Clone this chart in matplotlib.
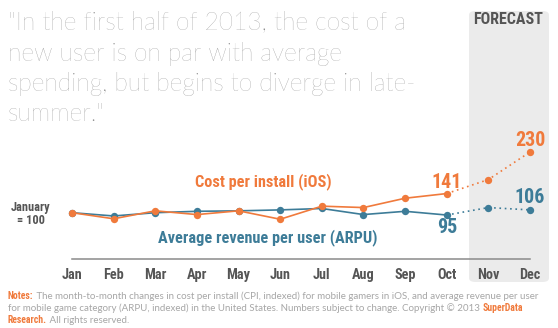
import matplotlib
matplotlib.use("Agg")
import matplotlib.pyplot as plt
from matplotlib import font_manager as fm
from matplotlib.patches import FancyBboxPatch

W, H = 558, 328

months = ["Jan", "Feb", "Mar", "Apr", "May", "Jun",
          "Jul", "Aug", "Sep", "Oct", "Nov", "Dec"]
cpi = [100, 87, 104, 96, 104, 86, 114, 111, 131, 141, 171, 230]
arpu = [100, 93, 100, 103, 104, 106, 109, 96, 103, 95, 111, 106]
last_actual = 9  # Oct, after that the numbers are a forecast

orange = "#f07a3c"
blue = "#3d7c98"
dark = "#555555"
grey = "#a6a6a6"

# pick a condensed bold face if one is around
names = {f.name for f in fm.fontManager.ttflist}
if "Roboto Condensed" in names:
    narrow = dict(family="Roboto Condensed", weight="bold")
elif any(f.name == "DejaVu Sans" and f.stretch == "condensed"
         for f in fm.fontManager.ttflist):
    narrow = dict(family="DejaVu Sans", stretch="condensed", weight="bold")
elif "Liberation Sans Narrow" in names:
    narrow = dict(family="Liberation Sans Narrow", weight="bold")
else:
    narrow = dict(family="Roboto", weight="bold")
light = dict(family="Lato", weight="normal")
thin = dict(family="Lato", weight="light")


def fx(x):
    return x / W


def fy(y):
    return 1 - y / H


fig = plt.figure(figsize=(W / 100, H / 100), dpi=100)
fig.patch.set_facecolor("white")
renderer = fig.canvas.get_renderer()


def fit(t, width):
    # scale the font so the text is as wide as in the reference
    w = t.get_window_extent(renderer).width
    t.set_fontsize(t.get_fontsize() * width / w)
    return t


# plot area: Jan at px 72, Dec at px 530, 100 at px 212.7
ax = fig.add_axes([0, 0, 1, 1])
ax.set_xlim(-72 / 41.64, (W - 72) / 41.64)
ax.set_ylim(100 - (H - 212.7) / 0.467, 100 + 212.7 / 0.467)
ax.axis("off")

# forecast band
band = FancyBboxPatch((fx(469), fy(282)), fx(549) - fx(469), fy(11) - fy(282),
                      boxstyle="round,pad=0,rounding_size=0.012",
                      transform=fig.transFigure, facecolor="#ebebeb",
                      edgecolor="none", zorder=0)
ax.add_patch(band)
fit(fig.text(fx(508), fy(19), "FORECAST", ha="center", va="center",
             fontsize=11, color=dark, **narrow), 70)

x = list(range(len(months)))
k = last_actual
for vals, col, z in [(arpu, blue, 3), (cpi, orange, 4)]:
    ax.plot(x[:k + 1], vals[:k + 1], color=col, lw=1.2, zorder=z)
    ax.plot(x[k:], vals[k:], color=col, lw=1.2, ls=(0, (1, 2.2)), zorder=z)
    ax.plot(x, vals, "o", color=col, ms=5.3, mec="none", zorder=z + 0.5)

# baseline axis line
ax.plot([0, 11], [100 - (259 - 212.7) / 0.467] * 2, color="#8a8a8a", lw=1.1,
        zorder=2)
ref = fit(ax.text(0, 0, "Jan", fontsize=9, **narrow), 21)
size_m = ref.get_fontsize()
ref.remove()
for i, m in enumerate(months):
    ax.text(i, 100 - (275 - 212.7) / 0.467, m, ha="center", va="center",
            fontsize=size_m, color=dark, zorder=5, **narrow)

# value labels
for i, vals, col, dy in [(9, cpi, orange, 11), (9, arpu, blue, -12),
                         (11, cpi, orange, 11), (11, arpu, blue, 12)]:
    ax.annotate(str(vals[i]), (i, vals[i]), xytext=(0, dy),
                textcoords="offset pixels", ha="center", va="center",
                fontsize=size_m * 1.4, color=col, zorder=5, **narrow)

fit(fig.text(fx(263), fy(182), "Cost per install (iOS)", ha="center",
             va="center", fontsize=12, color=orange, **narrow), 136)
fit(fig.text(fx(268), fy(238), "Average revenue per user (ARPU)", ha="center",
             va="center", fontsize=12, color=blue, **narrow), 219)
fig.text(fx(31), fy(214), "January\n= 100", ha="center", va="center",
         fontsize=size_m * 0.87, color=dark, linespacing=1.1, **narrow)

# quote
quote = ["\"In the first half of 2013, the cost of a",
         "new user is on par with average",
         "spending, but begins to diverge in late-",
         "summer.\""]
first = fit(fig.text(fx(8), fy(30), quote[0], ha="left", va="baseline",
                     fontsize=17, color="#8a8a8a", **thin), 399)
for j, line in enumerate(quote[1:], 1):
    fig.text(fx(8), fy(30 + 30.5 * j), line, ha="left", va="baseline",
             fontsize=first.get_fontsize(), color="#8a8a8a", **thin)

# notes with coloured bits
note_lines = [
    [("Notes:", orange, narrow),
     (" The month-to-month changes in cost per install (CPI, indexed) for mobile "
      "gamers in iOS, and average revenue per user", grey, light)],
    [("for mobile game category (ARPU, indexed) in the United States. Numbers "
      "subject to change. Copyright \u00a9 2013 ", grey, light),
     ("SuperData", orange, narrow)],
    [("Research.", orange, narrow), (" All rights reserved.", grey, light)],
]
note_size = 7
for row, y in zip(note_lines, [299, 311, 323]):
    cur = 8
    for txt, col, font in row:
        t = fig.text(fx(cur), fy(y), txt, ha="left", va="baseline",
                     fontsize=note_size, color=col, **font)
        cur = t.get_window_extent(renderer).x1

fig.savefig("out.png", dpi=100)
